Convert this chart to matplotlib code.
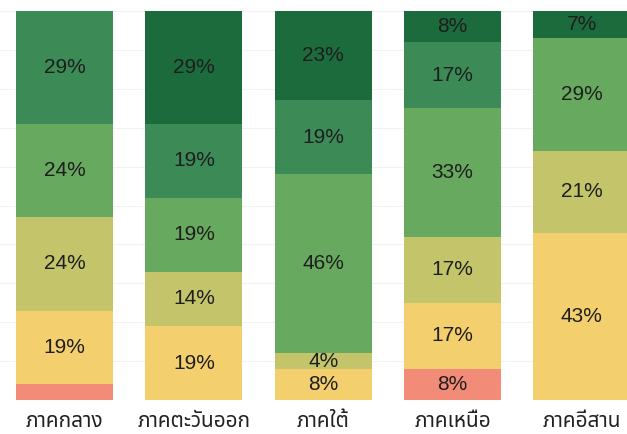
import matplotlib
matplotlib.use("Agg")
import matplotlib.pyplot as plt
import numpy as np

# --- DATA ---
regions = ["ภาคกลาง", "ภาคตะวันออก", "ภาคใต้", "ภาคเหนือ", "ภาคอีสาน"]

# shares per region (%), stacked bottom to top
level_1 = [4, 0, 0, 8, 0]        # red
level_2 = [19, 19, 8, 17, 43]    # yellow
level_3 = [24, 14, 4, 17, 21]    # olive
level_4 = [24, 19, 46, 33, 29]   # light green
level_5 = [29, 19, 19, 17, 0]    # green
level_6 = [0, 29, 23, 8, 7]      # dark green

levels = [level_1, level_2, level_3, level_4, level_5, level_6]
colors = ["#f28b77", "#f4cf6e", "#c4c56b", "#67a95f", "#3c8a56", "#1c6b3c"]
# smallest share that still gets a label, per level
min_label = [5, 4, 4, 4, 4, 4]

# --- STYLE ---
plt.rcParams["font.family"] = ["Noto Sans Thai", "Loma", "Garuda", "Sarabun",
                               "Liberation Sans", "DejaVu Sans"]

fig = plt.figure(figsize=(6.27, 4.34), dpi=100, facecolor="white")
ax = fig.add_axes([0.0, 34 / 434, 1.0, 389 / 434])

x = np.arange(len(regions))
bottom = np.zeros(len(regions))
for vals, color, lim in zip(levels, colors, min_label):
    vals = np.array(vals, dtype=float)
    ax.bar(x, vals, bottom=bottom, width=0.75, color=color, linewidth=0, zorder=2)
    for xi, v, b in zip(x, vals, bottom):
        if v >= lim:
            ax.text(xi, b + v / 2, f"{v:.0f}%", ha="center", va="center",
                    fontsize=15, color="#1e1e1e", family="Liberation Sans",
                    zorder=3)
    bottom += vals

ax.set_xlim(-0.5, 4.35)
ax.set_ylim(0, 100)
ax.set_yticks(np.arange(0, 101, 10))
ax.grid(axis="y", color="#f2f2f2", linewidth=0.8, zorder=0)

ax.set_xticks(x)
ax.set_xticklabels(regions, fontsize=15, color="#222222")
ax.tick_params(axis="x", length=0, pad=8)
ax.tick_params(axis="y", length=0, labelleft=False)
for s in ax.spines.values():
    s.set_visible(False)

plt.savefig("out.png", dpi=100, facecolor="white")
